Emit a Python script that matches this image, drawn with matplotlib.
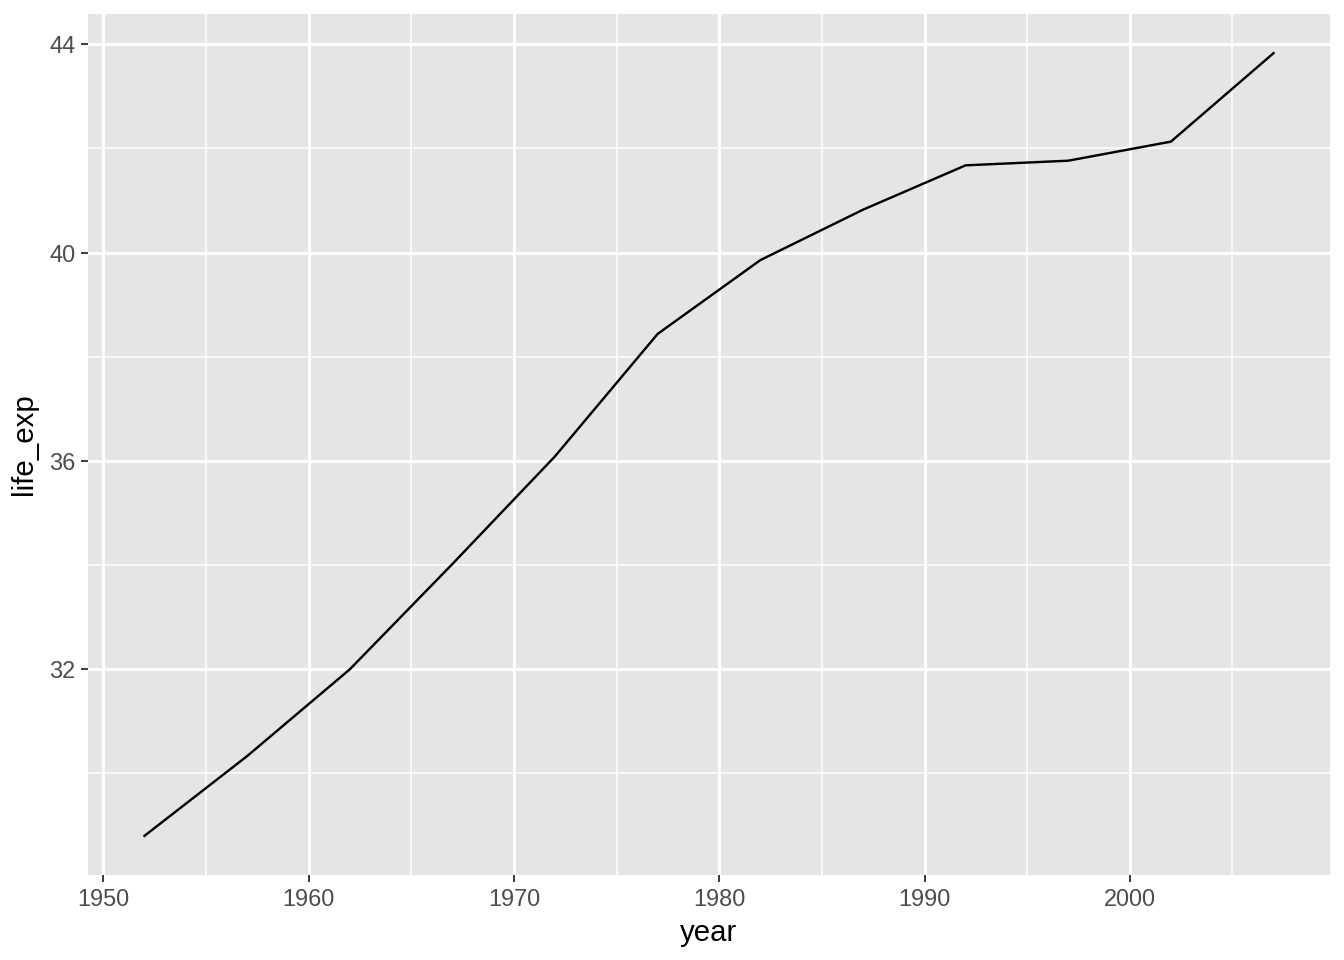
import matplotlib
matplotlib.use("Agg")
import matplotlib.pyplot as plt

# Afghanistan life expectancy (gapminder)
year = [1952, 1957, 1962, 1967, 1972, 1977, 1982, 1987, 1992, 1997, 2002, 2007]
life_exp = [28.801, 30.332, 31.997, 34.020, 36.088, 38.438,
            39.854, 40.822, 41.674, 41.763, 42.129, 43.828]

x_major = [1950, 1960, 1970, 1980, 1990, 2000]
x_minor = [1955, 1965, 1975, 1985, 1995, 2005]
y_major = [32, 36, 40, 44]
y_minor = [30, 34, 38, 42]

plt.rcParams['font.family'] = ['Liberation Sans', 'DejaVu Sans']

fig = plt.figure(figsize=(7, 5), dpi=192)
ax = fig.add_axes([88 / 1344, 85 / 960, (1330 - 88) / 1344, (946 - 85) / 960])
ax.set_facecolor('#E5E5E5')

xr = max(year) - min(year)
yr = max(life_exp) - min(life_exp)
ax.set_xlim(min(year) - 0.05 * xr, max(year) + 0.05 * xr)
ax.set_ylim(min(life_exp) - 0.05 * yr, max(life_exp) + 0.05 * yr)

for v in x_minor:
    ax.axvline(v, color='white', lw=0.6, zorder=0)
for v in y_minor:
    ax.axhline(v, color='white', lw=0.6, zorder=0)
for v in x_major:
    ax.axvline(v, color='white', lw=1.15, zorder=0)
for v in y_major:
    ax.axhline(v, color='white', lw=1.15, zorder=0)

ax.plot(year, life_exp, color='black', lw=0.9, zorder=3)

ax.set_xticks(x_major)
ax.set_yticks(y_major)
ax.tick_params(axis='both', length=2.75, width=0.7, color='#333333',
               labelcolor='#4D4D4D', labelsize=8.8, pad=2)
for s in ax.spines.values():
    s.set_visible(False)

ax.set_xlabel('year', fontsize=11, labelpad=3)
ax.set_ylabel('life_exp', fontsize=11, labelpad=4)

fig.savefig('out.png', dpi=192)
